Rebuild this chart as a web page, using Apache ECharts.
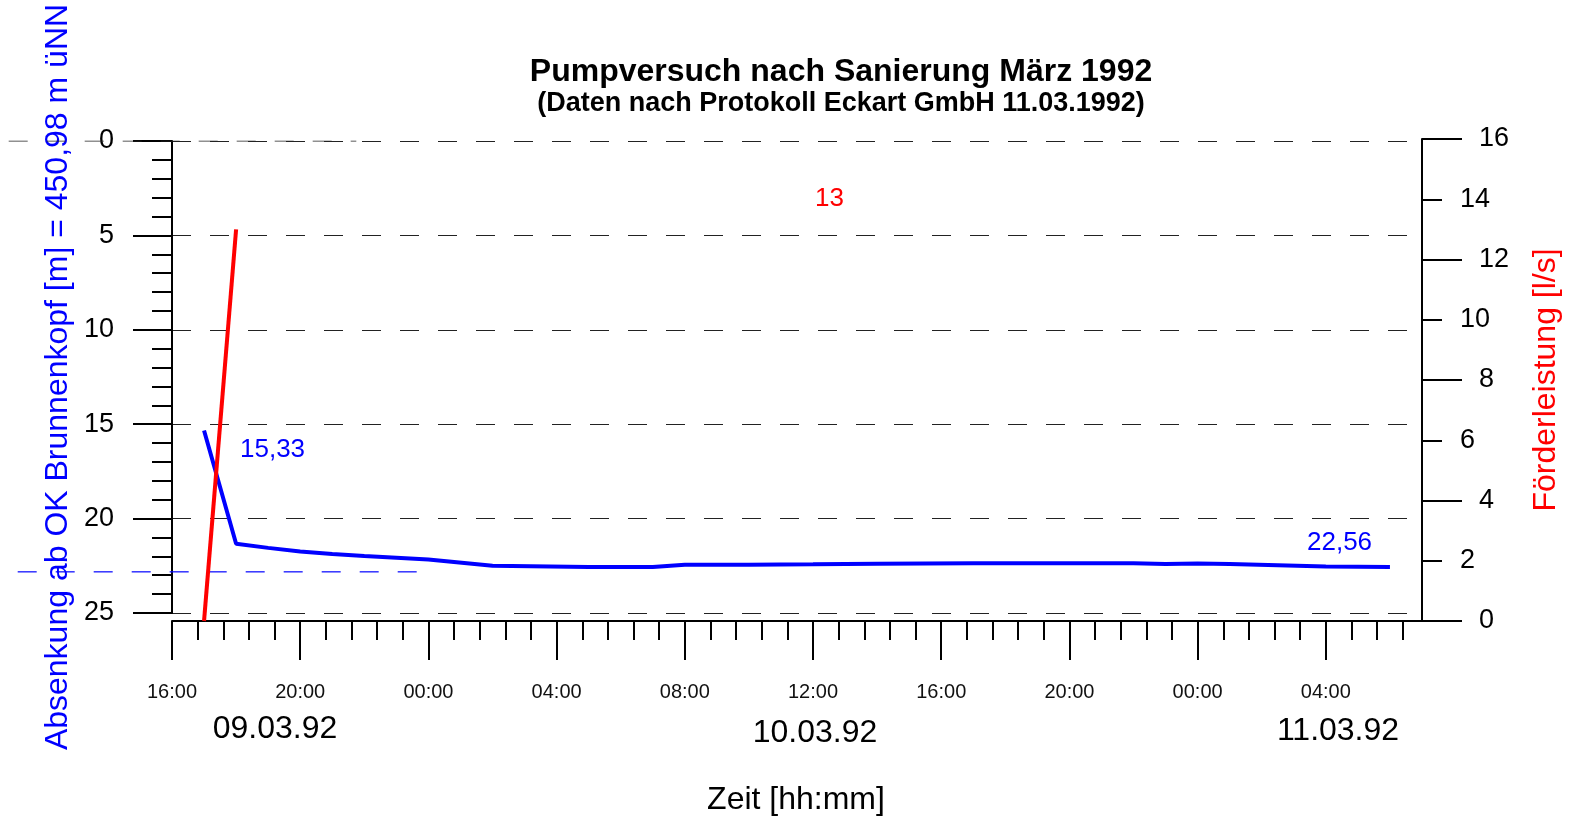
<!DOCTYPE html>
<html>
<head>
<meta charset="utf-8">
<script src="https://cdn.jsdelivr.net/npm/echarts@6/dist/echarts.min.js"></script>
<style>html,body{margin:0;padding:0;background:#fff;}#chart{width:1574px;height:827px;}</style>
</head>
<body>
<div id="chart"></div>
<script>
// ---- data ----
const axisStart = "1992-03-09 16:00";
const axisHours = 39;
const majorStepHours = 4;
const minorStepHours = 0.8;
const dateLabels = ["09.03.92", "10.03.92", "11.03.92"];

const blueTimes = ["1992-03-09 17:00","1992-03-09 18:00","1992-03-09 19:00","1992-03-09 20:00","1992-03-09 21:00","1992-03-09 22:00","1992-03-09 23:00","1992-03-10 00:00","1992-03-10 02:00","1992-03-10 05:00","1992-03-10 07:00","1992-03-10 08:00","1992-03-10 10:00","1992-03-10 12:00","1992-03-10 14:00","1992-03-10 17:00","1992-03-10 20:00","1992-03-10 22:00","1992-03-10 23:00","1992-03-11 00:00","1992-03-11 01:00","1992-03-11 04:00","1992-03-11 06:00"];
const blueValues = [15.33,21.33,21.55,21.74,21.87,21.98,22.07,22.17,22.50,22.56,22.56,22.45,22.44,22.42,22.39,22.36,22.37,22.37,22.40,22.38,22.40,22.54,22.56];

const redTimes = ["1992-03-09 17:00","1992-03-09 18:00"];
const redValues = [0, 13];

const blueRefTimes = ["1992-03-09 10:00","1992-03-09 23:40"];
const blueRefValue = 22.82;
const zeroRefTimes = ["1992-03-09 10:00","1992-03-09 21:45"];
const zeroRefValue = 0;

const rightMinorTicks = [2, 6, 10, 14];

// ---- helpers ----
function parseT(s){
  const [d,t] = s.split(' ');
  const [Y,M,D] = d.split('-').map(Number);
  const [h,m] = t.split(':').map(Number);
  return Date.UTC(Y, M-1, D, h, m);
}
const t0 = parseT(axisStart);
const toH = s => (parseT(s) - t0) / 3600000;
const pad = n => (n < 10 ? '0' : '') + n;
const hourLabel = v => { const d = new Date(t0 + v*3600000); return pad(d.getUTCHours()) + ':' + pad(d.getUTCMinutes()); };

const majorX = []; for (let v = 0; v <= axisHours - 1e-9; v += majorStepHours) majorX.push(v);
const minorX = []; for (let i = 0; i * minorStepHours < axisHours - 1e-9; i++) minorX.push(+(i*minorStepHours).toFixed(2));

const blueData = blueTimes.map((t,i) => [toH(t), blueValues[i]]);
const redData = redTimes.map((t,i) => [toH(t), redValues[i]]);
const blueRef = blueRefTimes.map(t => [toH(t), blueRefValue]);
const zeroRef = zeroRefTimes.map(t => [toH(t), zeroRefValue]);

// layout
const W = 1574, gLeft = 172, gRight = 152;
const pxPerHour = (W - gLeft - gRight) / axisHours;
const overlayMin = -gLeft / pxPerHour;  // overlay grid starts at the page edge, same time scale

const FONT = '"Liberation Sans", Arial, Helvetica, sans-serif';
const black = '#000';

const chart = echarts.init(document.getElementById('chart'));
chart.setOption({
  animation: false,
  backgroundColor: '#fff',
  textStyle: { fontFamily: FONT },
  grid: [
    { left: gLeft, right: gRight, top: 141, height: 472, containLabel: false },
    { left: gLeft, right: gRight, top: 139, height: 482, containLabel: false },
    { left: 0, right: gRight, top: 141, height: 472, containLabel: false }
  ],
  xAxis: [
    { type: 'value', gridIndex: 0, min: 0, max: axisHours, show: false, position: 'bottom', axisLine: { onZero: false } },
    {
      type: 'value', gridIndex: 1, min: 0, max: axisHours, position: 'bottom',
      axisLine: { show: true, onZero: false, lineStyle: { color: black, width: 2 } },
      axisTick: { show: true, length: 39, customValues: majorX, lineStyle: { color: black, width: 2 } },
      axisLabel: { show: true, customValues: majorX, margin: 61, fontSize: 20, color: '#111', fontFamily: FONT, formatter: v => hourLabel(v) },
      splitLine: { show: false }
    },
    {
      type: 'value', gridIndex: 1, min: 0, max: axisHours, position: 'bottom',
      axisLine: { show: false, onZero: false },
      axisTick: { show: true, length: 19, customValues: minorX, lineStyle: { color: black, width: 2 } },
      axisLabel: { show: false },
      splitLine: { show: false }
    },
    { type: 'value', gridIndex: 2, min: overlayMin, max: axisHours, show: false, position: 'bottom', axisLine: { onZero: false } }
  ],
  yAxis: [
    {
      type: 'value', gridIndex: 0, inverse: true, min: 0, max: 25, interval: 5, position: 'left',
      axisLine: { show: true, onZero: false, lineStyle: { color: black, width: 2 } },
      axisTick: { show: true, length: 39, lineStyle: { color: black, width: 2 } },
      minorTick: { show: true, splitNumber: 5, length: 20, lineStyle: { color: black, width: 2 } },
      axisLabel: { margin: 58, fontSize: 27, color: black, fontFamily: FONT },
      splitLine: { show: true, lineStyle: { color: '#222', width: 1, type: [19, 19] } }
    },
    {
      type: 'value', gridIndex: 1, min: 0, max: 16, interval: 4, position: 'right',
      axisLine: { show: true, onZero: false, lineStyle: { color: black, width: 2 } },
      axisTick: { show: true, length: 40, lineStyle: { color: black, width: 2 } },
      axisLabel: { margin: 57, fontSize: 27, color: black, fontFamily: FONT },
      splitLine: { show: false }
    },
    {
      type: 'value', gridIndex: 1, min: 0, max: 16, interval: 2, position: 'right',
      axisLine: { show: false, onZero: false },
      axisTick: { show: true, length: 20, customValues: rightMinorTicks, lineStyle: { color: black, width: 2 } },
      axisLabel: { margin: 38, fontSize: 27, color: black, fontFamily: FONT, customValues: rightMinorTicks },
      splitLine: { show: false }
    },
    { type: 'value', gridIndex: 2, inverse: true, min: 0, max: 25, show: false, axisLine: { onZero: false } }
  ],
  series: [
    {
      name: 'zeroRef', type: 'line', xAxisIndex: 3, yAxisIndex: 3, data: zeroRef,
      symbol: 'none', silent: true, lineStyle: { color: '#222', width: 1, type: [19, 19], dashOffset: 9 }
    },
    {
      name: 'blueRef', type: 'line', xAxisIndex: 3, yAxisIndex: 3, data: blueRef,
      symbol: 'none', silent: true, lineStyle: { color: '#0000ff', width: 1.2, type: [19, 19] }
    },
    {
      name: 'Absenkung', type: 'line', xAxisIndex: 0, yAxisIndex: 0, data: blueData,
      symbol: 'none', lineStyle: { color: '#0000ff', width: 4 }, z: 3
    },
    {
      name: 'Förderleistung', type: 'line', xAxisIndex: 1, yAxisIndex: 1, data: redData,
      symbol: 'none', lineStyle: { color: '#ff0000', width: 4 }, z: 4
    }
  ],
  graphic: [
    { type: 'text', x: 841, y: 72, style: { text: 'Pumpversuch nach Sanierung März 1992', font: 'bold 32px ' + FONT, fill: black, textAlign: 'center', textVerticalAlign: 'middle' } },
    { type: 'text', x: 841, y: 104, style: { text: '(Daten nach Protokoll Eckart GmbH 11.03.1992)', font: 'bold 27px ' + FONT, fill: black, textAlign: 'center', textVerticalAlign: 'middle' } },
    { type: 'text', x: 815, y: 199, style: { text: String(redValues[redValues.length-1]), font: '26px ' + FONT, fill: '#ff0000', textAlign: 'left', textVerticalAlign: 'middle' } },
    { type: 'text', x: 240, y: 450, style: { text: blueValues[0].toFixed(2).replace('.', ','), font: '26px ' + FONT, fill: '#0000ff', textAlign: 'left', textVerticalAlign: 'middle' } },
    { type: 'text', x: 1307, y: 543, style: { text: blueValues[blueValues.length-1].toFixed(2).replace('.', ','), font: '26px ' + FONT, fill: '#0000ff', textAlign: 'left', textVerticalAlign: 'middle' } },
    { type: 'text', x: 275, y: 729, style: { text: dateLabels[0], font: '32px ' + FONT, fill: black, textAlign: 'center', textVerticalAlign: 'middle' } },
    { type: 'text', x: 815, y: 733, style: { text: dateLabels[1], font: '32px ' + FONT, fill: black, textAlign: 'center', textVerticalAlign: 'middle' } },
    { type: 'text', x: 1338, y: 731, style: { text: dateLabels[2], font: '32px ' + FONT, fill: black, textAlign: 'center', textVerticalAlign: 'middle' } },
    { type: 'text', x: 796, y: 800, style: { text: 'Zeit [hh:mm]', font: '32px ' + FONT, fill: black, textAlign: 'center', textVerticalAlign: 'middle' } },
    { type: 'text', x: 58, y: 377, rotation: Math.PI/2, style: { text: 'Absenkung ab OK Brunnenkopf [m] = 450,98 m üNN', font: '32px ' + FONT, fill: '#0000ff', textAlign: 'center', textVerticalAlign: 'middle' } },
    { type: 'text', x: 1546, y: 380, rotation: Math.PI/2, style: { text: 'Förderleistung [l/s]', font: '32px ' + FONT, fill: '#ff0000', textAlign: 'center', textVerticalAlign: 'middle' } }
  ]
});
</script>
</body>
</html>
